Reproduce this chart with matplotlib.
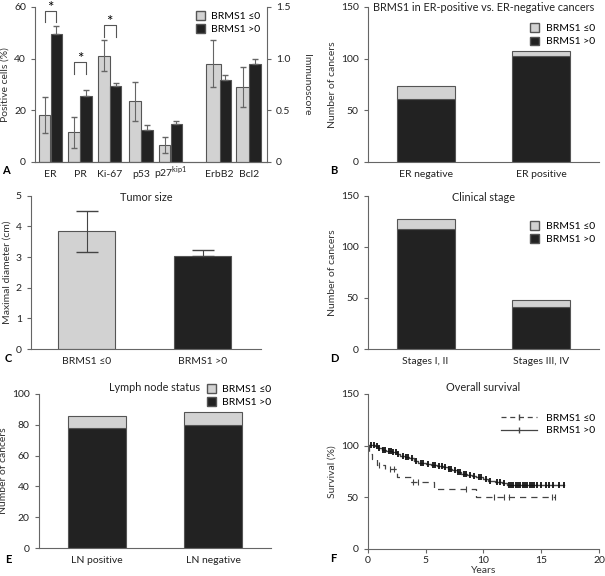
import matplotlib
matplotlib.use("Agg")
import matplotlib.pyplot as plt
from matplotlib.lines import Line2D
from matplotlib.patches import Patch

plt.rcParams['font.family'] = ['Lato', 'DejaVu Sans']
plt.rcParams['font.size'] = 7.5
plt.rcParams['axes.edgecolor'] = '#666666'
plt.rcParams['xtick.color'] = '#666666'
plt.rcParams['ytick.color'] = '#666666'
plt.rcParams['xtick.labelcolor'] = '#222222'
plt.rcParams['ytick.labelcolor'] = '#222222'
plt.rcParams['mathtext.fontset'] = 'custom'
plt.rcParams['mathtext.rm'] = 'Lato'

LIGHT = '#d2d2d2'
DARK = '#222222'
EDGE = '#555555'
ERR = '#666666'

# panel A: positive cells (%) and immunoscore
markers = ['ER', 'PR', 'Ki-67', 'p53', 'p27$^{\\mathrm{kip1}}$']
pct_low = [18, 11.5, 41, 23.5, 6.5]
pct_low_err = [7, 6, 6, 7.5, 3]
pct_high = [49.5, 25.5, 29.5, 12.5, 14.5]
pct_high_err = [3, 2.3, 1.2, 1.8, 1.2]
immuno = ['ErbB2', 'Bcl2']
imm_low = [0.95, 0.725]
imm_low_err = [0.23, 0.19]
imm_high = [0.79, 0.95]
imm_high_err = [0.05, 0.05]
sig_pairs = [0, 1, 2]
sig_heights = [58.5, 38.5, 53]

# panel B
er_groups = ['ER negative', 'ER positive']
er_high = [61, 102]
er_low = [12, 5.5]

# panel C
size_groups = ['BRMS1 \u22640', 'BRMS1 >0']
size_mean = [3.85, 3.03]
size_err = [0.67, 0.19]

# panel D
stage_groups = ['Stages I, II', 'Stages III, IV']
stage_high = [117.5, 41.5]
stage_low = [9.5, 7]

# panel E
ln_groups = ['LN positive', 'LN negative']
ln_high = [78, 80]
ln_low = [8, 8]

# panel F: Kaplan-Meier steps
surv_high_t = [0, 0.6, 0.9, 1.2, 1.6, 2.1, 2.5, 2.8, 3.2, 3.6, 4.0, 4.3, 5.0, 5.5,
               6.0, 6.5, 6.9, 7.3, 7.7, 8.1, 8.6, 9.0, 9.4, 10.0, 10.4, 11.0, 11.6, 12.0, 17.0]
surv_high_s = [101, 100, 98, 96, 95, 94, 92, 90, 89, 88, 85, 83, 82, 81,
               80, 79, 77, 76, 74, 73, 72, 71, 70, 68, 66, 65, 64, 62, 62]
cens_high = [0.3, 0.5, 0.8, 1.0, 1.3, 1.5, 1.8, 2.0, 2.2, 2.4, 2.6, 3.0, 3.3, 3.5, 3.8,
             4.2, 4.6, 4.8, 5.2, 5.6, 5.8, 6.2, 6.4, 6.7, 7.0, 7.2, 7.5, 7.8, 8.0, 8.3,
             8.5, 8.8, 9.2, 9.6, 9.8, 10.2, 10.6, 11.2, 11.4, 11.8, 12.2, 12.4, 12.6,
             12.8, 13.0, 13.2, 13.4, 13.6, 13.8, 14.0, 14.2, 14.4, 14.6, 15.0, 15.4,
             15.7, 16.0, 16.5, 17.0]
surv_low_t = [0, 0.1, 0.4, 0.8, 1.5, 2.5, 3.7, 5.7, 9.4, 16.2]
surv_low_s = [100, 92, 87, 81, 77, 70, 65, 58, 50, 50]
cens_low = [1.0, 1.9, 2.3, 3.9, 4.3, 8.5, 10.9, 11.8, 12.2, 15.9, 16.2]


def step_value(ts, ss, t):
    v = ss[0]
    for ti, si in zip(ts, ss):
        if ti <= t:
            v = si
    return v


def style(ax):
    ax.spines['top'].set_visible(False)
    ax.spines['right'].set_visible(False)
    ax.tick_params(axis='y', direction='out', length=3, width=0.8)
    ax.tick_params(axis='x', length=0, pad=6)


def panel_title(ax, txt, y):
    ax.text(0.5, y, txt, transform=ax.transAxes, ha='center', va='center',
            fontsize=7.8, color='#222222', clip_on=False)


def stacked(ax, groups, high, low, ylim, yticks):
    x = range(len(groups))
    ax.bar(x, high, 0.5, color=DARK, edgecolor=EDGE, linewidth=0.8, label='BRMS1 >0')
    ax.bar(x, low, 0.5, bottom=high, color=LIGHT, edgecolor=EDGE, linewidth=0.8,
           label='BRMS1 \u22640')
    ax.set_xlim(-0.5, 1.5)
    ax.set_ylim(*ylim)
    ax.set_yticks(yticks)
    ax.set_xticks(list(x))
    ax.set_xticklabels(groups)
    ax.set_ylabel('Number of cancers', color='#333333', labelpad=3)
    style(ax)


def bar_legend(ax, pos):
    handles = [Patch(facecolor=LIGHT, edgecolor=EDGE, label='BRMS1 \u22640'),
               Patch(facecolor=DARK, edgecolor=EDGE, label='BRMS1 >0')]
    ax.legend(handles=handles, loc='upper right', bbox_to_anchor=pos, frameon=False,
              handlelength=0.9, handleheight=0.9, handletextpad=0.6, labelspacing=0.3,
              fontsize=7.5, borderaxespad=0)


fig = plt.figure(figsize=(6.05, 5.76), dpi=100)

# ---- A ----
axA = fig.add_axes([0.058, 0.719, 0.383, 0.269])
pos_m = [0, 1, 2, 3.05, 4.05]
pos_i = [5.7, 6.7]
w = 0.39
axA.bar([p - 0.2 for p in pos_m], pct_low, w, color=LIGHT, edgecolor=EDGE, linewidth=0.8,
        yerr=pct_low_err, ecolor=ERR, capsize=2.5, error_kw={'elinewidth': 0.8})
axA.bar([p + 0.2 for p in pos_m], pct_high, w, color=DARK, edgecolor=EDGE, linewidth=0.8,
        yerr=[[0] * 5, pct_high_err], ecolor=ERR, capsize=2.5, error_kw={'elinewidth': 0.8})
axA.set_xlim(-0.52, 7.3)
axA.set_ylim(0, 60)
axA.set_yticks([0, 20, 40, 60])
axA.set_ylabel('Positive cells (%)', color='#333333', labelpad=3)
axA.set_xticks(pos_m + pos_i)
axA.set_xticklabels(markers + immuno)
style(axA)
axA.tick_params(axis='x', pad=11)
for lab in axA.get_xticklabels():
    lab.set_va('baseline')
axA2 = axA.twinx()
axA2.bar([p - 0.2 for p in pos_i], imm_low, w + 0.1, color=LIGHT, edgecolor=EDGE, linewidth=0.8,
         yerr=imm_low_err, ecolor=ERR, capsize=2.5, error_kw={'elinewidth': 0.8})
axA2.bar([p + 0.2 for p in pos_i], imm_high, w, color=DARK, edgecolor=EDGE, linewidth=0.8,
         yerr=[[0, 0], imm_high_err], ecolor=ERR, capsize=2.5, error_kw={'elinewidth': 0.8})
axA2.set_ylim(0, 1.5)
axA2.set_yticks([0, 0.5, 1.0, 1.5])
axA2.set_yticklabels(['0', '0.5', '1.0', '1.5'])
axA2.set_ylabel('Immunoscore', rotation=270, labelpad=15, color='#333333')
axA2.spines['top'].set_visible(False)
axA2.spines['left'].set_visible(False)
axA2.tick_params(axis='y', direction='out', length=3, width=0.8)
for i, h in zip(sig_pairs, sig_heights):
    p = pos_m[i]
    axA.plot([p - 0.2, p - 0.2, p + 0.2, p + 0.2], [h - 4.5, h, h, h - 4.5],
             color='#555555', lw=0.8, clip_on=False)
    axA.text(p, h + 1.2, '*', ha='center', va='center', fontsize=11, clip_on=False)
bar_legend(axA, (0.99, 1.0))
fig.text(0.004, 0.698, 'A', fontsize=8, fontweight='bold')

# ---- B ----
axB = fig.add_axes([0.608, 0.719, 0.382, 0.269])
stacked(axB, er_groups, er_high, er_low, (0, 150), [0, 50, 100, 150])
panel_title(axB, 'BRMS1 in ER-positive vs. ER-negative cancers', 0.995)
bar_legend(axB, (1.0, 0.92))
fig.text(0.545, 0.698, 'B', fontsize=8, fontweight='bold')

# ---- C ----
axC = fig.add_axes([0.051, 0.394, 0.380, 0.266])
axC.bar([0, 1], size_mean, 0.49, color=[LIGHT, DARK], edgecolor=EDGE, linewidth=0.8,
        yerr=[[size_err[0], 0], size_err], ecolor='#444444', capsize=8,
        error_kw={'elinewidth': 0.8})
axC.set_xlim(-0.48, 1.5)
axC.set_ylim(0, 5)
axC.set_yticks([0, 1, 2, 3, 4, 5])
axC.set_xticks([0, 1])
axC.set_xticklabels(size_groups)
axC.set_ylabel('Maximal diameter (cm)', color='#333333', labelpad=3)
panel_title(axC, 'Tumor size', 0.99)
style(axC)
fig.text(0.008, 0.372, 'C', fontsize=8, fontweight='bold')

# ---- D ----
axD = fig.add_axes([0.608, 0.394, 0.382, 0.266])
stacked(axD, stage_groups, stage_high, stage_low, (0, 150), [0, 50, 100, 150])
panel_title(axD, 'Clinical stage', 0.99)
bar_legend(axD, (1.0, 0.86))
fig.text(0.545, 0.372, 'D', fontsize=8, fontweight='bold')

# ---- E ----
axE = fig.add_axes([0.064, 0.0486, 0.384, 0.2674])
stacked(axE, ln_groups, ln_high, ln_low, (0, 100), [0, 20, 40, 60, 80, 100])
panel_title(axE, 'Lymph node status', 1.045)
bar_legend(axE, (1.02, 1.09))
fig.text(0.008, 0.022, 'E', fontsize=8, fontweight='bold')

# ---- F ----
axF = fig.add_axes([0.608, 0.047, 0.382, 0.269])
axF.step(surv_high_t, surv_high_s, where='post', color='#444444', lw=1.0)
axF.plot(cens_high, [step_value(surv_high_t, surv_high_s, t) for t in cens_high],
         ls='none', marker='|', color='#111111', ms=5, mew=1.3)
axF.step(surv_low_t, surv_low_s, where='post', color='#444444', lw=0.9, ls=(0, (5, 4)))
axF.plot(cens_low, [step_value(surv_low_t, surv_low_s, t) for t in cens_low],
         ls='none', marker='|', color='#444444', ms=4, mew=0.8)
axF.set_xlim(0, 20)
axF.set_ylim(0, 150)
axF.set_yticks([0, 50, 100, 150])
axF.set_xticks([0, 5, 10, 15, 20])
axF.set_xlabel('Years', color='#333333', labelpad=1)
axF.set_ylabel('Survival (%)', color='#333333', labelpad=3)
panel_title(axF, 'Overall survival', 1.045)
style(axF)
axF.tick_params(axis='x', direction='out', length=3, width=0.8, pad=2)
handles = [Line2D([], [], color='#444444', ls=(0, (4, 3)), lw=0.9, marker='|', ms=4,
                  label='BRMS1 \u22640'),
           Line2D([], [], color='#444444', lw=0.9, marker='|', ms=4, label='BRMS1 >0')]
axF.legend(handles=handles, loc='upper right', bbox_to_anchor=(1.0, 0.9), frameon=False,
           handlelength=3.5, fontsize=7.5, labelspacing=0.3, borderaxespad=0)
fig.text(0.545, 0.025, 'F', fontsize=8, fontweight='bold')

fig.savefig('out.png', dpi=100)
